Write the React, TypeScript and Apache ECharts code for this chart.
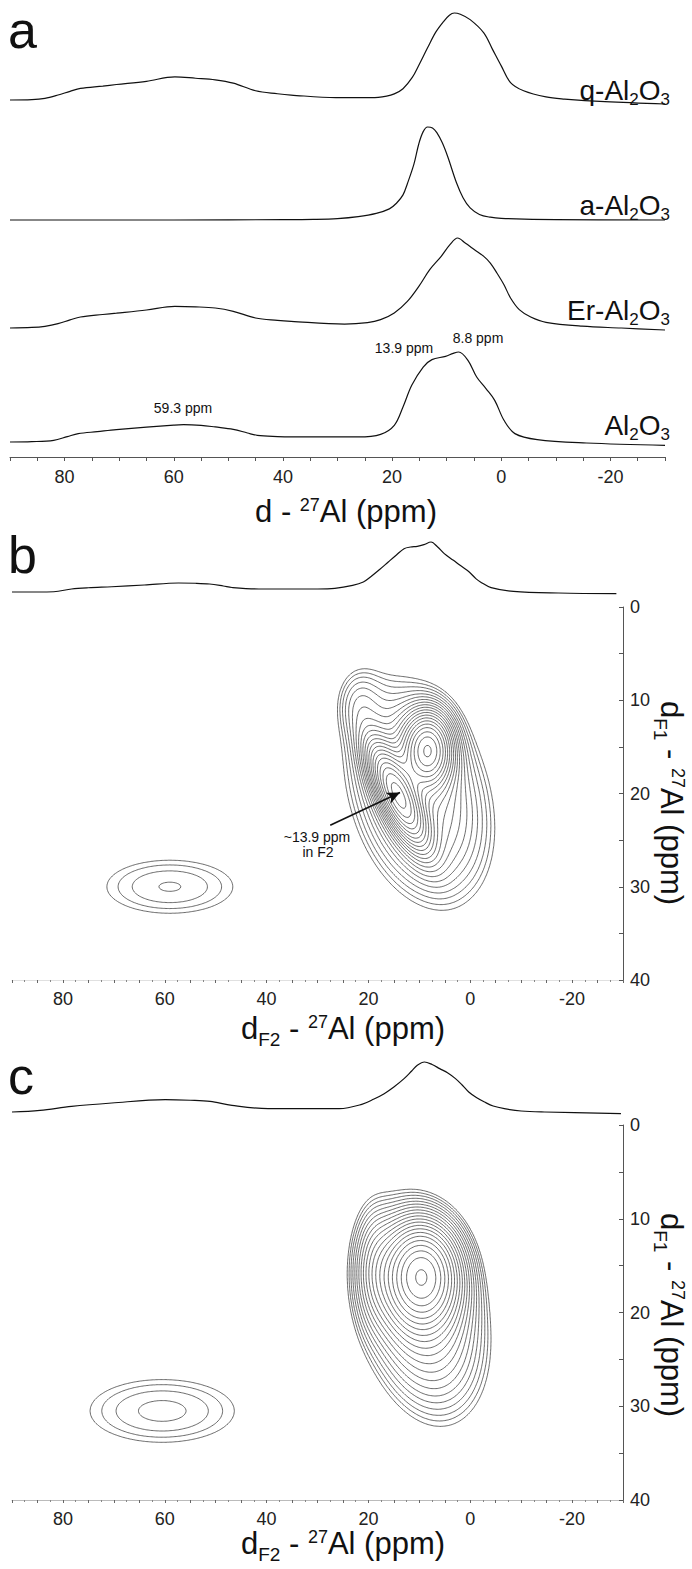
import React, { useEffect, useRef } from 'react';
import * as echarts from 'echarts';

const FONT = '"Liberation Sans", Arial, Helvetica, sans-serif';

// ---------- axes ----------
const PPM_LEFT = 90;
const PPM_RIGHT = -30;
const F1_TOP = 0;
const F1_BOTTOM = 40;
const X_LABELS = [80, 60, 40, 20, 0, -20];
const Y_LABELS = [0, 10, 20, 30, 40];

// ---------- panel a : 1D 27Al MAS spectra  [ppm, normalised intensity] ----------
const qAl2O3 = [
  [90, 0], [86, 0.004], [83.6, 0.019], [81.2, 0.057], [79, 0.1], [77.1, 0.133], [73, 0.16], [70.5, 0.178],
  [65, 0.215], [59.8, 0.266], [56, 0.25], [52.4, 0.232], [49.1, 0.194], [45, 0.106], [41, 0.072], [38.5, 0.057],
  [30.3, 0.027], [23.7, 0.027], [21, 0.045], [19.6, 0.07], [18, 0.13], [16.3, 0.26], [15.1, 0.4], [13.5, 0.6],
  [12, 0.78], [10.6, 0.9], [9.5, 0.975], [8.6, 1], [7.5, 0.985], [5.7, 0.924], [3.2, 0.772], [1.6, 0.582],
  [0, 0.392], [-1.7, 0.2], [-4.1, 0.106], [-8.2, 0.035], [-11.6, 0.011], [-19, -0.019], [-30, -0.046],
];
const aAl2O3 = [
  [90, 0], [60, 0], [40, 0.004], [34.4, 0.007], [30, 0.015], [26.2, 0.036], [22.9, 0.071], [20.5, 0.12],
  [19.2, 0.18], [18, 0.27], [17.2, 0.39], [16, 0.6], [15.1, 0.82], [14.3, 0.95], [13.5, 1], [12.6, 0.99],
  [11.8, 0.94], [10.8, 0.83], [9.8, 0.68], [8.2, 0.4], [7, 0.24], [5.7, 0.13], [4, 0.06], [2, 0.03],
  [0, 0.018], [-10, 0.004], [-30, 0],
];
const erAl2O3 = [
  [90, 0], [86, 0.006], [83.6, 0.019], [81.2, 0.048], [79, 0.09], [77.1, 0.122], [73, 0.15], [70.5, 0.165],
  [65, 0.2], [59.8, 0.24], [56, 0.235], [52.4, 0.222], [49.1, 0.185], [45, 0.111], [41, 0.085], [38.5, 0.074],
  [28.7, 0.044], [24.5, 0.06], [22.1, 0.093], [19.6, 0.167], [17.2, 0.296], [15.1, 0.463], [13.1, 0.648],
  [11, 0.796], [9.4, 0.926], [8, 1], [6.6, 0.944], [4.9, 0.87], [3.2, 0.796], [2, 0.722], [0.8, 0.611],
  [-0.5, 0.481], [-1.7, 0.333], [-3.3, 0.204], [-5.4, 0.122], [-8.2, 0.063], [-14.8, 0.02], [-22, 0.0],
  [-30, -0.022],
];
const al2O3 = [
  [90, 0], [86, 0.004], [82, 0.019], [79.5, 0.06], [77.5, 0.093], [74, 0.115], [70.5, 0.137], [65, 0.165],
  [60, 0.188], [58.2, 0.193], [55, 0.185], [52.4, 0.167], [49.1, 0.141], [46.5, 0.1], [44.7, 0.074],
  [41, 0.06], [38.5, 0.056], [26.2, 0.056], [22.1, 0.085], [19.6, 0.185], [18, 0.389], [16.4, 0.63],
  [14.3, 0.833], [12.7, 0.915], [10.2, 0.952], [8.8, 0.985], [7.8, 1], [6.1, 0.907], [4.5, 0.722],
  [2.8, 0.593], [1.2, 0.463], [-0.5, 0.241], [-2.5, 0.093], [-6.6, 0.026], [-15.6, -0.011], [-30, -0.037],
];

// ---------- panels b, c : F2 projections ----------
const projB = [
  [90, 0], [85, 0], [81.8, 0.005], [78.3, 0.06], [75, 0.085], [70.4, 0.105], [64, 0.14], [57.3, 0.18],
  [54, 0.175], [51.2, 0.16], [48.5, 0.12], [46.8, 0.09], [41.5, 0.06], [30, 0.06], [26.6, 0.073],
  [23.1, 0.133], [21, 0.2], [19.6, 0.3], [17.8, 0.45], [16.1, 0.6], [14.5, 0.74], [13, 0.867],
  [11.7, 0.9], [10.4, 0.913], [9.1, 0.947], [7.7, 1], [6.4, 0.9], [5.1, 0.767], [3.3, 0.633], [2, 0.533],
  [0.2, 0.4], [-1.1, 0.267], [-2, 0.2], [-4.1, 0.087], [-8.5, 0.013], [-17.3, -0.02], [-28.7, -0.033],
];
const projC = [
  [90, 0], [84.5, 0.033], [78.3, 0.113], [70.4, 0.18], [59.9, 0.247], [55, 0.235], [51.1, 0.213],
  [46.8, 0.133], [39.7, 0.067], [25.7, 0.067], [21.3, 0.153], [18.9, 0.26], [16.9, 0.367], [15, 0.5],
  [13, 0.667], [11.5, 0.82], [10.4, 0.933], [9, 1], [7.5, 0.95], [6, 0.867], [4.4, 0.78], [2.9, 0.667],
  [1.5, 0.53], [0.3, 0.4], [-1.2, 0.29], [-2.8, 0.2], [-4.5, 0.12], [-6.7, 0.067], [-10, 0.02],
  [-14.6, 0], [-29.6, -0.033],
];

// ---------- panels b, c : 2D MQMAS peaks [F2 ppm, F1 ppm, amplitude, width F2, width F1, shear] ----------
const peaksB = [
  [8.3, 15.3, 11.5, 2.9, 2.4, 0],
  [14.2, 20.2, 14, 2.3, 3.2, 0.75],
  [10, 20, 4, 8.5, 7.5, 0.35],
  [22, 10, 1, 3, 2.5, 0],
  [59, 30, 1.54, 13.3, 3.06, 0],
];
const peaksC = [
  [9.5, 16, 13, 4.5, 3.3, 0],
  [9.5, 20, 4.5, 7.5, 7, 0.3],
  [19, 15, 1.5, 2.5, 4, 0],
  [60.5, 30.5, 1.6, 14.6, 3.45, 0],
];
const LEVELS = [
  1, 1.15, 1.32, 1.52, 1.75, 2.01, 2.31, 2.66, 3.06, 3.52, 4.05, 4.65, 5.35, 6.15, 7.08, 8.14,
  9.36, 10.8, 12.4, 14.2, 16.4, 18.8,
];

// arrow in panel b  [F2, F1]
const arrowFrom = [27.5, 23.4];
const arrowTo = [13.8, 19.9];

function fieldAt(peaks: number[][], x: number, y: number) {
  let s = 0;
  for (const [x0, y0, a, sx, sy, sh] of peaks) {
    const dy = y - y0;
    const dx = x - x0 + sh * dy;
    s += a * Math.exp(-0.5 * ((dx / sx) * (dx / sx) + (dy / sy) * (dy / sy)));
  }
  return s;
}

function buildContours(peaks: number[][]): number[][][][] {
  const nx = 480, ny = 280;
  const xa = PPM_RIGHT, xb = PPM_LEFT, ya = F1_TOP, yb = F1_BOTTOM;
  const dx = (xb - xa) / nx, dy = (yb - ya) / ny;
  const W = nx + 1;
  const v = new Float64Array(W * (ny + 1));
  for (let j = 0; j <= ny; j++) for (let i = 0; i <= nx; i++) v[j * W + i] = fieldAt(peaks, xa + i * dx, ya + j * dy);
  const out: number[][][][] = [];
  for (const L of LEVELS) {
    const segs: number[] = [];
    const adj = new Map<number, number[]>();
    const add = (p: number, q: number) => {
      const k = segs.length / 2;
      segs.push(p, q);
      let a = adj.get(p); if (!a) { a = []; adj.set(p, a); } a.push(k);
      let b = adj.get(q); if (!b) { b = []; adj.set(q, b); } b.push(k);
    };
    for (let j = 0; j < ny; j++) for (let i = 0; i < nx; i++) {
      const n0 = j * W + i;
      const a = v[n0], b = v[n0 + 1], c = v[n0 + W + 1], d = v[n0 + W];
      const idx = (a > L ? 1 : 0) | (b > L ? 2 : 0) | (c > L ? 4 : 0) | (d > L ? 8 : 0);
      if (idx === 0 || idx === 15) continue;
      const e0 = n0 * 2, e1 = (n0 + 1) * 2 + 1, e2 = (n0 + W) * 2, e3 = n0 * 2 + 1;
      switch (idx) {
        case 1: case 14: add(e3, e0); break;
        case 2: case 13: add(e0, e1); break;
        case 3: case 12: add(e3, e1); break;
        case 4: case 11: add(e1, e2); break;
        case 6: case 9: add(e0, e2); break;
        case 7: case 8: add(e3, e2); break;
        case 5:
          if ((a + b + c + d) / 4 > L) { add(e0, e1); add(e2, e3); } else { add(e3, e0); add(e1, e2); }
          break;
        case 10:
          if ((a + b + c + d) / 4 > L) { add(e3, e0); add(e1, e2); } else { add(e0, e1); add(e2, e3); }
          break;
      }
    }
    const pointOf = (id: number): number[] => {
      const n = id >> 1;
      const i = n % W, j = (n - i) / W;
      const va = v[n];
      if ((id & 1) === 0) {
        const vb = v[n + 1]; const t = (L - va) / (vb - va);
        return [xa + (i + t) * dx, ya + j * dy];
      }
      const vb = v[n + W]; const t = (L - va) / (vb - va);
      return [xa + i * dx, ya + (j + t) * dy];
    };
    const nSeg = segs.length / 2;
    const used = new Uint8Array(nSeg);
    const lines: number[][][] = [];
    const walk = (from: number, arr: number[]) => {
      let cur = from;
      for (;;) {
        const list = adj.get(cur)!;
        let nk = -1;
        for (const s of list) if (!used[s]) { nk = s; break; }
        if (nk < 0) break;
        used[nk] = 1;
        cur = segs[2 * nk] === cur ? segs[2 * nk + 1] : segs[2 * nk];
        arr.push(cur);
      }
    };
    for (let k = 0; k < nSeg; k++) {
      if (used[k]) continue;
      used[k] = 1;
      const start = segs[2 * k], first = segs[2 * k + 1];
      const fwd = [start, first];
      walk(first, fwd);
      const back: number[] = [];
      walk(start, back);
      const ids = back.reverse().concat(fwd);
      lines.push(ids.map(pointOf));
    }
    out.push(lines);
  }
  return out;
}

function specAxis(top: number, height: number, basePx: number, unitPx: number) {
  return { min: (basePx - (top + height)) / unitPx, max: (basePx - top) / unitPx };
}

export default function App() {
  const ref = useRef<HTMLDivElement>(null);
  useEffect(() => {
    if (!ref.current) return;
    const chart = echarts.init(ref.current, undefined, { renderer: 'svg' });
    const contB = buildContours(peaksB);
    const contC = buildContours(peaksC);

    const A_L = 10, A_W = 655;
    const B_L = 12, B_W = 611;
    const grids = [
      { left: A_L, width: A_W, top: 5, height: 105 },
      { left: A_L, width: A_W, top: 115, height: 110 },
      { left: A_L, width: A_W, top: 225, height: 110 },
      { left: A_L, width: A_W, top: 340, height: 117 },
      { left: B_L, width: B_W, top: 530, height: 70 },
      { left: B_L, width: B_W, top: 607, height: 373 },
      { left: B_L, width: B_W, top: 1050, height: 72 },
      { left: B_L, width: B_W, top: 1125, height: 375 },
    ];
    const specY = [
      specAxis(5, 105, 100, 87),
      specAxis(115, 110, 220, 93),
      specAxis(225, 110, 328, 90),
      specAxis(340, 117, 442, 90),
      specAxis(530, 70, 592, 50),
      null,
      specAxis(1050, 72, 1112, 50),
      null,
    ];

    const xFmt = (v: number) => (X_LABELS.indexOf(v) >= 0 ? String(v) : '');
    const yFmt = (v: number) => (Y_LABELS.indexOf(v) >= 0 ? String(v) : '');
    const baseX = { type: 'value', min: PPM_RIGHT, max: PPM_LEFT, inverse: true, interval: 5 };

    const xAxis = grids.map((g, i) => {
      if (i === 3) {
        return {
          ...baseX, gridIndex: i, show: true, position: 'bottom',
          axisLine: { show: true, onZero: false, lineStyle: { color: '#555', width: 1 } },
          axisTick: { show: true, length: 4, lineStyle: { color: '#555' } },
          splitLine: { show: false },
          axisLabel: { formatter: xFmt, fontSize: 18, fontFamily: FONT, color: '#222', margin: 11 },
        };
      }
      if (i === 5 || i === 7) {
        return {
          ...baseX, gridIndex: i, show: true, position: 'bottom',
          axisLine: { show: true, onZero: false, lineStyle: { color: i === 5 ? '#d8d8d8' : '#aaa', width: 0.8 } },
          axisTick: { show: true, length: 3, lineStyle: { color: '#666' } },
          minorTick: { show: true, splitNumber: 2, length: 2, lineStyle: { color: '#888' } },
          splitLine: { show: false },
          axisLabel: { formatter: xFmt, fontSize: 18, fontFamily: FONT, color: '#222', margin: 10 },
        };
      }
      return { ...baseX, gridIndex: i, show: false, axisLine: { onZero: false } };
    });

    const yAxis = grids.map((g, i) => {
      if (i === 5 || i === 7) {
        return {
          type: 'value', gridIndex: i, min: F1_TOP, max: F1_BOTTOM, interval: 5, inverse: true, position: 'right',
          axisLine: { show: true, onZero: false, lineStyle: { color: '#555', width: 1 } },
          axisTick: { show: true, inside: true, length: 4, lineStyle: { color: '#555' } },
          splitLine: { show: false },
          axisLabel: { formatter: yFmt, fontSize: 18, fontFamily: FONT, color: '#222', margin: 7 },
        };
      }
      const r = specY[i]!;
      return {
        type: 'value', gridIndex: i, show: false, min: r.min, max: r.max,
        axisLine: { onZero: false }, splitLine: { show: false },
      };
    });

    const lineS = (data: number[][], idx: number) => ({
      type: 'line', data, xAxisIndex: idx, yAxisIndex: idx, symbol: 'none', smooth: 0.35, silent: true,
      lineStyle: { color: '#111', width: 1.2 },
    });

    const contourSeries = (cont: number[][][][], idx: number) => ({
      type: 'custom', xAxisIndex: idx, yAxisIndex: idx, silent: true, clip: true,
      data: LEVELS.map((lv) => [20, 20, lv]),
      renderItem: (params: any, api: any) => {
        const lines = cont[params.dataIndex];
        let d = '';
        for (const line of lines) {
          for (let i = 0; i < line.length; i++) {
            const c = api.coord(line[i]);
            d += (i ? 'L' : 'M') + c[0].toFixed(1) + ' ' + c[1].toFixed(1);
          }
        }
        return {
          type: 'path', shape: { pathData: d },
          style: { fill: 'none', stroke: '#2a2a2a', lineWidth: 0.7 },
        };
      },
    });

    // rich text: all tokens top-aligned; subscripts pushed down with top padding
    const mkRich = (size: number) => ({
      m: { fontSize: size, fontFamily: FONT, fill: '#111', verticalAlign: 'top' },
      s: { fontSize: Math.round(size * 0.62), fontFamily: FONT, fill: '#111', verticalAlign: 'top', padding: [Math.round(size * 0.54), 0, 0, 0] },
      sup: { fontSize: Math.round(size * 0.57), fontFamily: FONT, fill: '#111', verticalAlign: 'top' },
    });
    const rtxt = (x: number, y: number, text: string, size: number, align: string, extra: any = {}) => ({
      type: 'text', x, y, z: 100, silent: true, ...extra,
      style: { text, fontSize: size, fontFamily: FONT, fill: '#111', align, verticalAlign: 'top', rich: mkRich(size) },
    });
    const txt = (x: number, y: number, text: string, size: number, align: string) => ({
      type: 'text', x, y, z: 100, silent: true,
      style: { text, fontSize: size, fontFamily: FONT, fill: '#111', align, verticalAlign: 'middle' },
    });

    const graphic = [
      txt(8, 30, 'a', 52, 'left'),
      txt(8, 555, 'b', 52, 'left'),
      txt(8, 1076, 'c', 52, 'left'),
      rtxt(670, 76, '{m|q-Al}{s|2}{m|O}{s|3}', 28, 'right'),
      rtxt(670, 191, '{m|a-Al}{s|2}{m|O}{s|3}', 28, 'right'),
      rtxt(670, 296, '{m|Er-Al}{s|2}{m|O}{s|3}', 28, 'right'),
      rtxt(670, 411, '{m|Al}{s|2}{m|O}{s|3}', 28, 'right'),
      txt(404, 348, '13.9 ppm', 14, 'center'),
      txt(478, 338, '8.8 ppm', 14, 'center'),
      txt(183, 408, '59.3 ppm', 14, 'center'),
      txt(317, 837, '~13.9 ppm', 14, 'center'),
      txt(318, 852, 'in F2', 14, 'center'),
      rtxt(346, 496, '{m|d - }{sup|27}{m|Al (ppm)}', 31, 'center'),
      rtxt(343, 1013, '{m|d}{s|F2}{m| - }{sup|27}{m|Al (ppm)}', 31, 'center'),
      rtxt(343, 1528, '{m|d}{s|F2}{m| - }{sup|27}{m|Al (ppm)}', 31, 'center'),
      rtxt(687, 803, '{m|d}{s|F1}{m| - }{sup|27}{m|Al (ppm)}', 31, 'center', { rotation: -Math.PI / 2 }),
      rtxt(687, 1315, '{m|d}{s|F1}{m| - }{sup|27}{m|Al (ppm)}', 31, 'center', { rotation: -Math.PI / 2 }),
    ];

    chart.setOption({
      animation: false,
      backgroundColor: '#fff',
      grid: grids.map((g) => ({ ...g, containLabel: false })),
      xAxis,
      yAxis,
      series: [
        lineS(qAl2O3, 0),
        lineS(aAl2O3, 1),
        lineS(erAl2O3, 2),
        lineS(al2O3, 3),
        lineS(projB, 4),
        lineS(projC, 6),
        contourSeries(contB, 5),
        contourSeries(contC, 7),
        {
          type: 'line', xAxisIndex: 5, yAxisIndex: 5, data: [], silent: true,
          markLine: {
            silent: true, animation: false, symbol: ['none', 'arrow'], symbolSize: [9, 13],
            lineStyle: { color: '#111', width: 1.6, type: 'solid' }, label: { show: false },
            data: [[{ coord: arrowFrom }, { coord: arrowTo }]],
          },
        },
      ],
      graphic,
    } as any);
    return () => chart.dispose();
  }, []);
  return (
    <div
      ref={ref}
      style={{ position: 'absolute', left: 0, top: 0, width: 692, height: 1569, background: '#fff' }}
    />
  );
}
